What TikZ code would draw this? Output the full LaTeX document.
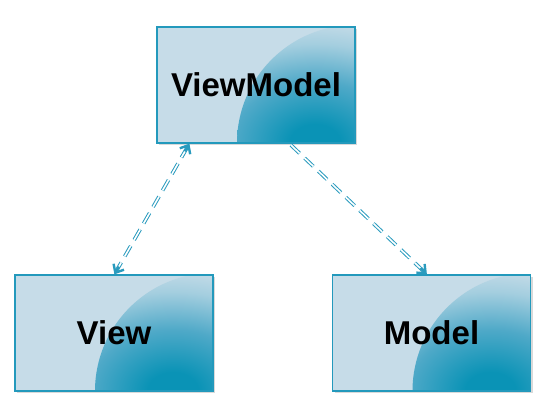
\documentclass[tikz,border=0pt]{standalone}
\usepackage{fontspec}
\setmainfont{Liberation Sans}
\usetikzlibrary{shadows,arrows.meta,calc}
\definecolor{tdark}{HTML}{0A93B6}
\definecolor{tmid}{HTML}{4FA9C8}
\definecolor{tmid2}{HTML}{A4CEDF}
\definecolor{tlight}{HTML}{C6DCE8}
\definecolor{tborder}{HTML}{2399BC}
\definecolor{tline}{HTML}{2A9BBE}
\pgfdeclareradialshading{cornershade}{\pgfpoint{0bp}{0bp}}{color(0bp)=(tdark); color(4bp)=(tdark); color(13bp)=(tmid); color(21bp)=(tmid2); color(26bp)=(tlight); color(50bp)=(tlight)}
\begin{document}
\begin{tikzpicture}[x=1pt,y=-1pt,
  box/.style={draw=tborder, line width=1.2pt, fill=tlight, minimum width=198pt, minimum height=116pt, inner sep=0pt,
    font=\bfseries\fontsize{33}{36}\selectfont,
    drop shadow={opacity=0.3, shadow xshift=2pt, shadow yshift=-2pt},
    path picture={\shade[shading=cornershade] (path picture bounding box.south east) circle (118pt);}},
  conn/.style={draw=tline, line width=1pt, double=white, double distance=1.6pt, dash pattern=on 12pt off 7pt},
  tip/.style={draw=tline, line width=2.4pt, -{Straight Barb[length=7pt,width=12pt]}}]
\useasboundingbox (0,0) rectangle (550,419);
\node[box] (vm) at (256,85) {ViewModel};
\node[box] (view) at (114,333) {View};
\node[box] (model) at (431.5,333) {Model};
\coordinate (a1) at ($(vm.south west)+(33pt,0)$);
\coordinate (a2) at ($(view.north west)+(100pt,0)$);
\coordinate (b1) at ($(vm.south west)+(133pt,0)$);
\coordinate (b2) at ($(model.north west)+(95pt,0)$);
\draw[conn] ($(a1)!4pt!(a2)$) -- ($(a2)!4pt!(a1)$);
\draw[conn] ($(b1)!2pt!(b2)$) -- ($(b2)!4pt!(b1)$);
\draw[tip] ($(a1)!9pt!(a2)$) -- (a1);
\draw[tip] ($(a2)!9pt!(a1)$) -- (a2);
\draw[tip] ($(b2)!9pt!(b1)$) -- (b2);
\end{tikzpicture}
\end{document}
